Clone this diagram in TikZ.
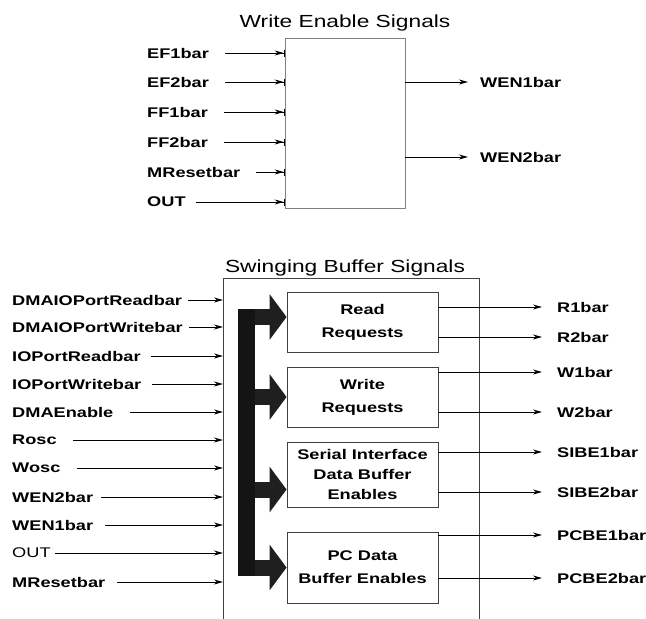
\documentclass[tikz,border=0pt]{standalone}
\usepackage{fontspec}
\setmainfont{Liberation Sans}[FakeStretch=1.3]
\usetikzlibrary{
    arrows.meta,
    positioning,
}

\begin{document}
\begin{tikzpicture}[
        x=1pt, y=-1pt,
        sig/.style={font=\bfseries\fontsize{14}{16}\selectfont, inner sep=2pt, anchor=west},
        heading/.style={font=\fontsize{17.5}{20}\selectfont, anchor=base},
        unit/.style={rectangle, draw=black!75, line width=0.9pt, minimum width=151pt, align=center, font=\bfseries\fontsize{14}{23}\selectfont},
        inwire/.style={line width=0.9pt, -{Stealth[length=9pt,width=5pt]Bar[width=7pt]}},
        outwire/.style={line width=0.9pt, -{Stealth[length=9pt,width=5pt]}},
        bigarrow/.style={line width=16pt, draw=black!88, -{Triangle[length=17pt,width=45pt]}},
    ]
        \useasboundingbox (0,0) rectangle (646,619);

        % write enable block
        \node[heading] (wetitle) at (345,27) {Write Enable Signals};
        \node[draw=black!50, line width=0.9pt, minimum width=120pt, minimum height=170pt] (web) at (345,123) {};
        \node[sig] (ef1) at (145,53) {EF1bar};
        \node[sig] (ef2) at (145,82) {EF2bar};
        \node[sig] (ff1) at (145,112) {FF1bar};
        \node[sig] (ff2) at (145,142) {FF2bar};
        \node[sig] (mrs) at (145,172) {MResetbar};
        \node[sig] (out) at (145,202) {OUT};
        \draw[inwire] ([xshift=14pt]ef1.east) -- (ef1.east -| web.west);
        \draw[inwire] ([xshift=14pt]ef2.east) -- (ef2.east -| web.west);
        \draw[inwire] ([xshift=14pt]ff1.east) -- (ff1.east -| web.west);
        \draw[inwire] ([xshift=14pt]ff2.east) -- (ff2.east -| web.west);
        \draw[inwire] ([xshift=14pt]mrs.east) -- (mrs.east -| web.west);
        \draw[inwire] ([xshift=8pt]out.east) -- (out.east -| web.west);
        \node[sig] (wen1) at (478,82) {WEN1bar};
        \node[sig] (wen2) at (478,157) {WEN2bar};
        \draw[outwire] (web.east |- wen1.west) -- ([xshift=-10pt]wen1.west);
        \draw[outwire] (web.east |- wen2.west) -- ([xshift=-10pt]wen2.west);

        % swinging buffer block
        \node[heading] (sbtitle) at (345,272) {Swinging Buffer Signals};
        \coordinate (sbl) at (223,278);
        \coordinate (sbr) at (479,278);
        \draw[line width=0.9pt, black!75] (sbl |- 0,619) -- (sbl) -- (sbr) -- (sbr |- 0,619);
        \node[fill=black!92, minimum width=17pt, minimum height=267pt, inner sep=0pt] (bus) at (246.5,442.5) {};
        \node[unit, minimum height=60pt] (rdq) at (362.5,322) {Read\\Requests};
        \node[unit, minimum height=60pt] (wrq) at (362.5,397) {Write\\Requests};
        \node[unit, minimum height=65pt, font=\bfseries\fontsize{14}{20}\selectfont] (sib) at (362.5,474.5) {Serial Interface\\Data Buffer\\Enables};
        \node[unit, minimum height=71pt] (pcb) at (362.5,567.5) {PC Data\\Buffer Enables};
        \draw[bigarrow] ([yshift=5pt]rdq.west -| bus.east) -- ([yshift=5pt]rdq.west);
        \draw[bigarrow] (wrq.west -| bus.east) -- (wrq.west);
        \draw[bigarrow] ([yshift=-15pt]sib.west -| bus.east) -- ([yshift=-15pt]sib.west);
        \draw[bigarrow] (pcb.west -| bus.east) -- (pcb.west);

        \node[sig] (dpr) at (10,300) {DMAIOPortReadbar};
        \node[sig] (dpw) at (10,327) {DMAIOPortWritebar};
        \node[sig] (ipr) at (10,356) {IOPortReadbar};
        \node[sig] (ipw) at (10,384) {IOPortWritebar};
        \node[sig] (dme) at (10,412) {DMAEnable};
        \node[sig] (rosc) at (10,440) {Rosc};
        \node[sig] (wosc) at (10,468) {Wosc};
        \node[sig] (iw2) at (10,497) {WEN2bar};
        \node[sig] (iw1) at (10,525) {WEN1bar};
        \node[sig, font=\fontsize{14}{16}\selectfont] (iout) at (10,553) {OUT};
        \node[sig] (imr) at (10,582) {MResetbar};
        \draw[outwire] ([xshift=4pt]dpr.east) -- (dpr.east -| sbl);
        \draw[outwire] ([xshift=4pt]dpw.east) -- (dpw.east -| sbl);
        \draw[outwire] ([xshift=8pt]ipr.east) -- (ipr.east -| sbl);
        \draw[outwire] ([xshift=8pt]ipw.east) -- (ipw.east -| sbl);
        \draw[outwire] ([xshift=14pt]dme.east) -- (dme.east -| sbl);
        \draw[outwire] ([xshift=14pt]rosc.east) -- (rosc.east -| sbl);
        \draw[outwire] ([xshift=14pt]wosc.east) -- (wosc.east -| sbl);
        \draw[outwire] ([xshift=6pt]iw2.east) -- (iw2.east -| sbl);
        \draw[outwire] ([xshift=10pt]iw1.east) -- (iw1.east -| sbl);
        \draw[outwire] ([xshift=2pt]iout.east) -- (iout.east -| sbl);
        \draw[outwire] ([xshift=10pt]imr.east) -- (imr.east -| sbl);

        \node[sig] (r1) at (555,307) {R1bar};
        \node[sig] (r2) at (555,337) {R2bar};
        \node[sig] (w1) at (555,372) {W1bar};
        \node[sig] (w2) at (555,412) {W2bar};
        \node[sig] (sibe1) at (555,452) {SIBE1bar};
        \node[sig] (sibe2) at (555,492) {SIBE2bar};
        \node[sig] (pcbe1) at (555,535) {PCBE1bar};
        \node[sig] (pcbe2) at (555,578) {PCBE2bar};
        \draw[outwire] (rdq.east |- r1.west) -- ([xshift=-13pt]r1.west);
        \draw[outwire] (rdq.east |- r2.west) -- ([xshift=-13pt]r2.west);
        \draw[outwire] (wrq.east |- w1.west) -- ([xshift=-13pt]w1.west);
        \draw[outwire] (wrq.east |- w2.west) -- ([xshift=-13pt]w2.west);
        \draw[outwire] (sib.east |- sibe1.west) -- ([xshift=-13pt]sibe1.west);
        \draw[outwire] (sib.east |- sibe2.west) -- ([xshift=-13pt]sibe2.west);
        \draw[outwire] (pcb.east |- pcbe1.west) -- ([xshift=-13pt]pcbe1.west);
        \draw[outwire] (pcb.east |- pcbe2.west) -- ([xshift=-13pt]pcbe2.west);
    \end{tikzpicture}
\end{document}
